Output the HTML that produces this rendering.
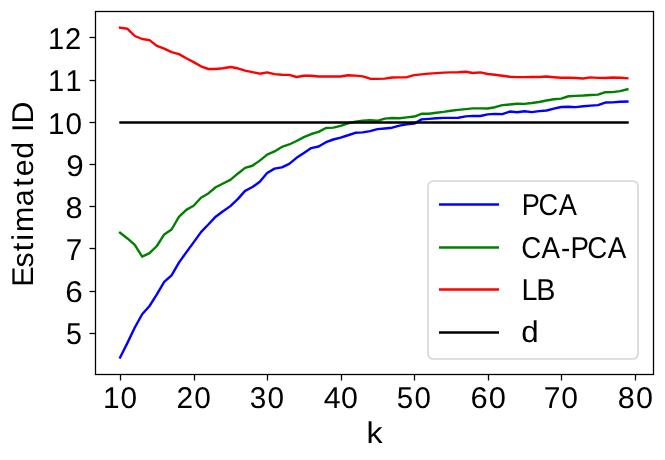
<!DOCTYPE html>
<html>
<head>
<meta charset="utf-8">
<title>Estimated ID vs k</title>
<style>
  html, body { margin: 0; padding: 0; background: #ffffff; }
  body { width: 665px; height: 460px; overflow: hidden; }
  svg { display: block; will-change: transform; }
  text { font-family: "Liberation Sans", sans-serif; fill: #000000; text-rendering: geometricPrecision; }
</style>
</head>
<body>
<svg width="665" height="460" viewBox="0 0 665 460">
<rect x="0" y="0" width="665" height="460" fill="#ffffff"/>

<g fill="none" stroke-width="2.4" stroke-linejoin="round" stroke-linecap="square">
<polyline stroke="#0000ff" points="120.10,357.50 127.45,342.89 134.80,327.47 142.16,314.25 149.51,306.00 156.86,294.40 164.21,281.90 171.56,275.30 178.92,262.67 186.27,252.33 193.62,242.36 200.97,232.08 208.32,224.51 215.68,216.66 223.03,211.23 230.38,206.12 237.73,199.15 245.08,190.90 252.44,187.04 259.79,181.80 267.14,173.06 274.49,168.63 281.84,167.37 289.20,163.81 296.55,157.87 303.90,153.01 311.25,148.06 318.60,146.55 325.96,142.18 333.31,139.50 340.66,137.54 348.01,135.26 355.36,132.79 362.72,132.39 370.07,131.06 377.42,129.17 384.77,128.48 392.12,127.71 399.48,125.64 406.83,124.27 414.18,123.61 421.53,119.35 428.88,118.87 436.24,118.23 443.59,117.90 450.94,117.92 458.29,117.74 465.64,116.35 473.00,115.89 480.35,115.97 487.70,114.35 495.05,113.87 502.40,114.17 509.76,111.52 517.11,112.31 524.46,111.21 531.81,112.10 539.16,111.17 546.52,110.49 553.87,108.67 561.22,107.02 568.57,106.82 575.92,107.08 583.28,106.26 590.63,105.65 597.98,105.17 605.33,102.52 612.68,102.35 620.04,101.82 627.39,101.60"/>
<polyline stroke="#008000" points="120.10,232.70 127.45,238.43 134.80,244.90 142.16,256.65 149.51,253.21 156.86,246.00 164.21,234.41 171.56,229.50 178.92,216.93 186.27,209.86 193.62,205.72 200.97,197.75 208.32,193.43 215.68,187.29 223.03,183.48 230.38,179.83 237.73,173.70 245.08,167.93 252.44,165.73 259.79,160.62 267.14,154.63 274.49,151.47 281.84,146.96 289.20,144.46 296.55,140.97 303.90,137.12 311.25,134.02 318.60,131.91 325.96,127.94 333.31,127.58 340.66,125.87 348.01,123.25 355.36,121.76 362.72,120.63 370.07,120.31 377.42,120.82 384.77,118.67 392.12,117.97 399.48,118.29 406.83,117.39 414.18,116.56 421.53,113.76 428.88,113.69 436.24,112.79 443.59,111.92 450.94,110.79 458.29,109.88 465.64,109.07 473.00,108.40 480.35,108.39 487.70,108.48 495.05,107.21 502.40,105.17 509.76,104.47 517.11,103.79 524.46,103.89 531.81,103.01 539.16,101.95 546.52,100.53 553.87,99.26 561.22,98.65 568.57,96.24 575.92,95.83 583.28,95.57 590.63,94.93 597.98,94.65 605.33,92.21 612.68,92.11 620.04,91.08 627.39,89.30"/>
<polyline stroke="#ff0000" points="120.10,27.70 127.45,28.80 134.80,36.00 142.16,39.00 149.51,40.10 156.86,45.90 164.21,48.60 171.56,52.10 178.92,54.10 186.27,58.30 193.62,62.10 200.97,66.30 208.32,69.00 215.68,69.00 223.03,68.30 230.38,66.95 237.73,68.30 245.08,70.60 252.44,72.10 259.79,73.70 267.14,72.40 274.49,74.10 281.84,74.70 289.20,74.90 296.55,77.00 303.90,75.70 311.25,75.70 318.60,76.55 325.96,76.55 333.31,76.55 340.66,76.55 348.01,75.20 355.36,75.60 362.72,76.40 370.07,78.70 377.42,78.85 384.77,78.60 392.12,77.50 399.48,77.40 406.83,77.20 414.18,75.10 421.53,74.40 428.88,73.60 436.24,73.15 443.59,72.60 450.94,72.35 458.29,72.20 465.64,71.70 473.00,73.00 480.35,72.35 487.70,74.00 495.05,74.70 502.40,75.70 509.76,76.70 517.11,77.15 524.46,77.10 531.81,76.95 539.16,76.95 546.52,76.55 553.87,77.20 561.22,77.80 568.57,77.80 575.92,78.00 583.28,78.55 590.63,77.40 597.98,77.85 605.33,78.00 612.68,77.50 620.04,77.80 627.39,78.30"/>
<polyline stroke="#000000" points="120.5,122.5 627.5,122.5"/>
</g>
<g stroke="#000000" stroke-width="1.28" fill="none">
<line x1="120.5" y1="374.5" x2="120.5" y2="380.50"/>
<line x1="194.5" y1="374.5" x2="194.5" y2="380.50"/>
<line x1="267.5" y1="374.5" x2="267.5" y2="380.50"/>
<line x1="341.5" y1="374.5" x2="341.5" y2="380.50"/>
<line x1="414.5" y1="374.5" x2="414.5" y2="380.50"/>
<line x1="488.5" y1="374.5" x2="488.5" y2="380.50"/>
<line x1="561.5" y1="374.5" x2="561.5" y2="380.50"/>
<line x1="635.5" y1="374.5" x2="635.5" y2="380.50"/>
<line x1="89.50" y1="333.5" x2="95.5" y2="333.5"/>
<line x1="89.50" y1="291.5" x2="95.5" y2="291.5"/>
<line x1="89.50" y1="248.5" x2="95.5" y2="248.5"/>
<line x1="89.50" y1="206.5" x2="95.5" y2="206.5"/>
<line x1="89.50" y1="164.5" x2="95.5" y2="164.5"/>
<line x1="89.50" y1="122.5" x2="95.5" y2="122.5"/>
<line x1="89.50" y1="80.5" x2="95.5" y2="80.5"/>
<line x1="89.50" y1="37.5" x2="95.5" y2="37.5"/>
<rect x="95.5" y="11.5" width="558.0" height="363.00" stroke-linejoin="miter"/>
</g>
<g>
<text transform="translate(105.62,0) scale(0.9904,1)" x="-2.75 14.99" y="408" font-size="30.0">10</text>
<text transform="translate(178.51,0) scale(0.9941,1)" x="-2.01 15.77" y="408" font-size="30.0">20</text>
<text transform="translate(251.36,0) scale(0.9920,1)" x="-1.54 16.21" y="408" font-size="30.0">30</text>
<text transform="translate(324.80,0) scale(1.0120,1)" x="-1.12 15.95" y="408" font-size="30.0">40</text>
<text transform="translate(398.45,0) scale(0.9836,1)" x="-1.66 16.40" y="408" font-size="30.0">50</text>
<text transform="translate(471.85,0) scale(1.0294,1)" x="-1.41 16.39" y="408" font-size="30.0">60</text>
<text transform="translate(545.77,0) scale(1.0012,1)" x="-1.93 15.56" y="408" font-size="30.0">70</text>
<text transform="translate(618.87,0) scale(1.0174,1)" x="-1.23 16.86" y="408" font-size="30.0">80</text>
<text transform="translate(50.53,0) scale(0.9711,1)" x="-2.66 14.99" y="49" font-size="30.0">12</text>
<text transform="translate(50.45,0) scale(0.9665,1)" x="-2.57 15.57" y="91" font-size="30.0">11</text>
<text transform="translate(50.62,0) scale(0.9904,1)" x="-2.75 14.99" y="134" font-size="30.0">10</text>
<text transform="translate(67.82,0) scale(1.0452,1)" x="-1.51" y="176" font-size="30.0">9</text>
<text transform="translate(66.81,0) scale(1.0229,1)" x="-1.19" y="218" font-size="30.0">8</text>
<text transform="translate(67.18,0) scale(0.9899,1)" x="-1.42" y="260" font-size="30.0">7</text>
<text transform="translate(66.69,0) scale(1.0474,1)" x="-1.34" y="302" font-size="30.0">6</text>
<text transform="translate(65.79,0) scale(0.9551,1)" x="0.10" y="344" font-size="30.0">5</text>
<text transform="translate(369.05,0) scale(1.0734,1)" x="-2.37" y="443" font-size="30.0">k</text>
<text transform="translate(32.99,282.75) rotate(-90) scale(1.0107,1)" x="-3.94 15.19 31.17 41.58 50.20 75.67 95.06 105.28 122.75 140.25 149.25 157.70" y="0" font-size="30.0">Estimated ID</text>
</g>
<g>
<path d="M433.76,181.0 L632.24,181.0 Q638.0,181.0 638.0,186.76 L638.0,353.24 Q638.0,359.0 632.24,359.0 L433.76,359.0 Q428.0,359.0 428.0,353.24 L428.0,186.76 Q428.0,181.0 433.76,181.0 Z" fill="#ffffff" fill-opacity="0.8" stroke="#cccccc" stroke-opacity="0.8" stroke-width="1.6" stroke-linejoin="miter"/>
<line x1="440.2" y1="204.5" x2="497.8" y2="204.5" stroke="#0000ff" stroke-width="2.4" stroke-linecap="square"/>
<text transform="translate(524.54,0) scale(0.9064,1)" x="-3.16 15.43 37.79" y="215" font-size="30.0">PCA</text>
<line x1="440.2" y1="247.5" x2="497.8" y2="247.5" stroke="#008000" stroke-width="2.4" stroke-linecap="square"/>
<text transform="translate(523.02,0) scale(0.9248,1)" x="-2.05 20.04 41.01 51.25 69.59 91.67" y="258" font-size="30.0">CA-PCA</text>
<line x1="440.2" y1="289.5" x2="497.8" y2="289.5" stroke="#ff0000" stroke-width="2.4" stroke-linecap="square"/>
<text transform="translate(523.92,0) scale(0.9576,1)" x="-2.59 12.87" y="300" font-size="30.0">LB</text>
<line x1="440.2" y1="332.5" x2="497.8" y2="332.5" stroke="#000000" stroke-width="2.4" stroke-linecap="square"/>
<text transform="translate(522.22,0) scale(1.0434,1)" x="-0.89" y="342" font-size="30.0">d</text>
</g>
</svg>
</body>
</html>
